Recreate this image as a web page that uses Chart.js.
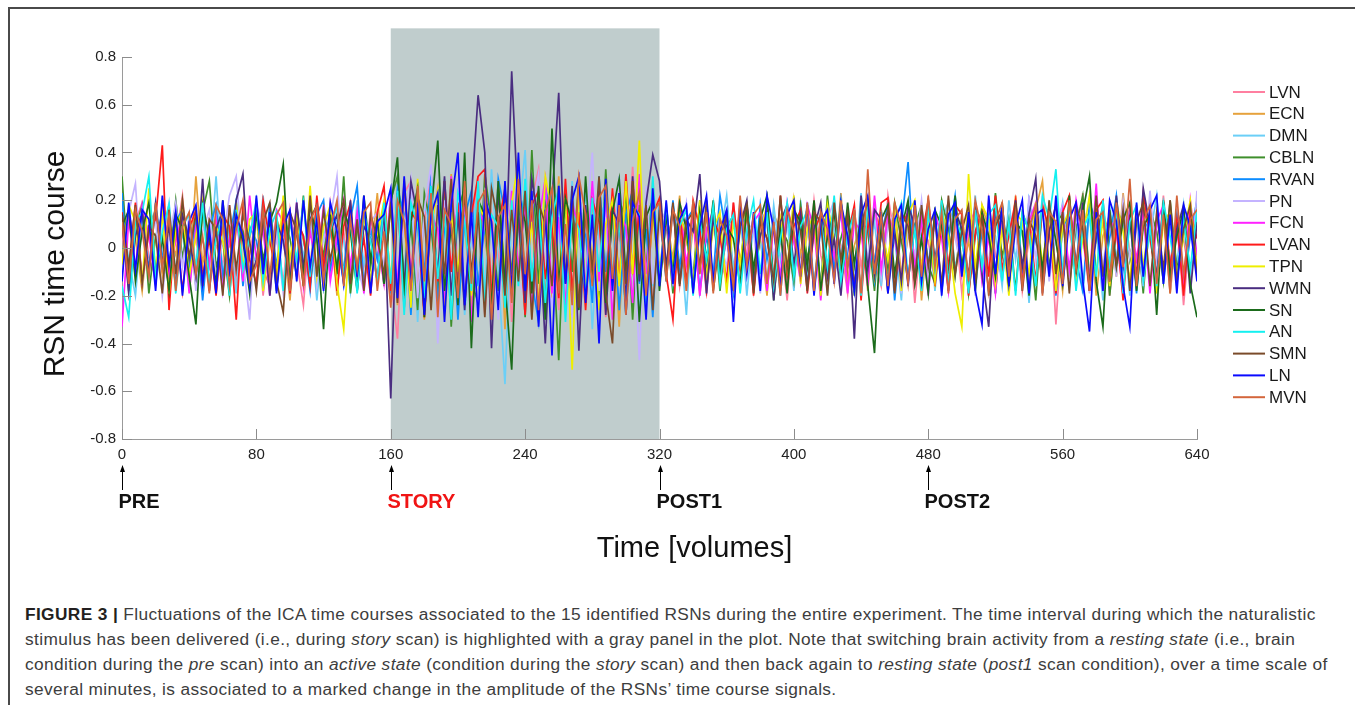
<!DOCTYPE html>
<html>
<head>
<meta charset="utf-8">
<script src="https://cdn.jsdelivr.net/npm/chart.js@4.4.1/dist/chart.umd.min.js"></script>
<style>
  html, body { margin: 0; padding: 0; background: #fff; overflow: hidden; }
  #frame { position: absolute; left: 8px; top: 7px; width: 1360px; height: 720px;
           border-top: 2px solid #4a4a4a; border-left: 2px solid #4a4a4a; }
  #plot { position: absolute; left: 0; top: 0; }
  #caption { position: absolute; left: 25px; top: 602px; white-space: nowrap;
             font: 17.3px "Liberation Sans", Arial, sans-serif; letter-spacing: 0.38px;
             line-height: 25px; color: #3d3d3d; }
  #caption b { color: #231f20; }
</style>
</head>
<body>
<div id="frame"></div>
<canvas id="plot" width="1355" height="580"></canvas>
<div id="caption">
<b>FIGURE 3 |</b> Fluctuations of the ICA time courses associated to the 15 identified RSNs during the entire experiment. The time interval during which the naturalistic<br>
stimulus has been delivered (i.e., during <i>story</i> scan) is highlighted with a gray panel in the plot. Note that switching brain activity from a <i>resting state</i> (i.e., brain<br>
condition during the <i>pre</i> scan) into an <i>active state</i> (condition during the <i>story</i> scan) and then back again to <i>resting state</i> (<i>post1</i> scan condition), over a time scale of<br>
several minutes, is associated to a marked change in the amplitude of the RSNs’ time course signals.
</div>
<script>
// RSN time courses, every 4 volumes (values x100)
const step = 4;
const names = ['LVN', 'ECN', 'DMN', 'CBLN', 'RVAN', 'PN', 'FCN', 'LVAN', 'TPN', 'WMN', 'SN', 'AN', 'SMN', 'LN', 'MVN'];

const lvn = [7,-16,11,19,-4,-12,15,-8,3,22,-11,5,-19,12,1,-7,18,-14,8,-3,
  14,-20,4,9,-15,16,-5,-24,11,3,-9,19,-1,7,-16,12,-8,15,-4,9,
  -13,-38,23,28,-18,11,31,-25,19,-10,26,-21,8,30,-28,14,-6,24,-31,16,-11,
  20,33,-23,5,-26,15,9,-19,25,-14,10,-29,21,6,-16,34,-8,13,-24,11,
  -9,18,-16,5,12,-20,8,15,-4,-14,19,-7,3,-18,11,16,-11,4,-22,14,
  7,-12,20,-3,-15,9,1,-19,16,-8,12,-5,-16,22,4,-11,14,-23,8,3,
  -14,18,-7,11,-19,5,15,-9,20,-3,-12,8,16,-18,4,12,-15,19,-32,11,
  7,-8,23,-14,3,15,-20,9,-5,18,-16,11,4,-12,22,-7,14,-24,8,-4];
const ecn = [-8,14,4,-18,9,16,-12,5,-3,20,-15,30,-7,11,-19,8,1,15,-11,4,
  18,-9,-16,12,5,-22,14,3,-8,19,-4,11,-20,15,8,-12,16,-5,23,-14,
  18,-24,29,-10,20,-30,9,25,-16,31,-20,11,-26,23,4,-15,28,-34,18,-8,24,
  -29,10,15,-21,30,-13,8,-25,19,-5,26,-18,13,-33,21,-9,16,-23,28,-10,
  15,-5,22,-18,9,3,-14,19,-8,12,-16,7,18,-11,4,-20,14,8,-15,20,
  -3,12,-19,16,5,-9,23,-14,1,11,-18,15,8,-7,19,-12,4,16,-22,9,
  14,-16,5,20,-11,3,-15,18,8,-19,12,-4,22,-14,7,16,28,-9,4,-18,
  19,-8,11,15,-20,5,14,-12,23,-3,-15,18,7,-11,16,-19,9,4,-14,20];
const dmn = [16,-5,-20,12,8,-15,3,19,-11,7,-18,14,4,-8,30,-12,9,-19,15,1,
  -7,22,-14,5,11,-16,18,-4,12,-22,8,-11,15,3,-18,20,-7,9,-14,16,
  -23,15,-11,26,-31,18,10,-20,29,-14,21,-28,6,24,-18,33,-10,-57,16,11,41,
  -24,14,-30,20,8,-25,28,-15,23,-34,13,19,-11,30,-21,9,-28,24,-16,14,
  -12,16,7,-28,19,-8,14,-16,4,22,-9,15,-20,11,3,-14,18,-5,12,-18,
  20,-11,5,15,-19,8,-3,16,-12,23,-7,11,-16,14,4,-22,18,-9,7,15,
  -18,12,19,-8,3,-15,22,-12,9,5,-16,20,-5,14,-23,8,16,-11,4,19,
  -14,9,-19,15,7,-22,18,-4,12,-20,16,-9,5,22,-15,11,-7,18,-12,14];
const cbln = [30,-12,8,18,-19,5,14,-9,20,-4,11,-16,15,28,-8,3,-20,12,7,-14,
  19,-5,9,-18,14,4,-12,22,-15,8,-3,16,-11,30,-19,7,15,-8,12,-16,
  20,30,-16,11,-26,23,9,-19,28,-33,16,25,-14,-23,31,10,-18,21,-11,26,-29,
  41,-15,19,8,-47,24,-10,29,-20,14,-25,33,-16,11,21,-30,18,-9,25,-15,
  11,-19,15,4,-12,20,-7,16,-18,8,14,-9,19,-15,5,12,-22,9,3,-14,
  18,-5,11,-16,22,-8,4,15,-20,12,7,-18,16,-11,19,3,-14,9,18,-7,
  -15,20,8,-12,14,-19,5,16,-9,23,-4,12,-18,15,7,-22,19,-8,11,14,
  -16,9,22,-12,4,18,-20,8,15,-5,12,-19,16,7,-14,20,-9,5,15,-11];
const rvan = [23,-18,7,14,-9,19,-3,-15,11,16,-7,12,-22,8,18,-12,4,20,-16,9,
  3,-14,19,-8,15,-19,11,5,-18,14,20,-9,4,-15,12,26,-16,8,-5,18,
  -19,25,14,-28,21,-11,31,-23,8,18,-30,13,24,-16,10,-25,29,15,-20,9,23,
  -14,-31,26,11,-18,20,-28,15,6,-23,30,-10,19,-26,14,24,-15,8,-29,18,
  -14,20,-8,12,16,-18,5,-11,22,4,-19,14,9,-15,18,-5,11,-20,15,3,
  -12,19,-16,8,14,-9,20,-4,-18,15,11,-14,5,18,-22,9,36,-12,16,-7,
  14,-18,4,22,-11,15,-16,7,12,-19,18,-8,9,-15,20,3,-12,16,-20,8,
  15,-5,-18,19,11,-14,4,22,-9,16,-19,12,7,-15,18,-8,14,-16,5,20];
const pn = [-11,15,27,-16,8,12,-20,4,19,-8,14,-18,7,16,-12,3,22,30,-5,-30,
  18,9,-15,5,-19,14,8,-11,20,-16,4,12,30,-14,16,-7,-18,11,15,-9,
  24,-15,10,29,-21,16,35,-40,20,-11,28,-19,13,-26,23,9,-30,18,25,-14,-20,
  15,31,-10,-24,19,11,-29,21,8,40,-18,14,-25,30,-13,16,-47,26,-15,10,
  16,-12,5,19,-15,9,-20,14,3,-8,18,-16,11,7,-19,15,-4,12,-14,22,
  -9,5,16,-18,12,20,-11,4,-15,14,-5,18,-12,9,15,-19,8,-3,20,-14,
  11,-16,19,4,-9,14,-20,16,-7,12,15,-11,7,-18,22,-5,22,-14,9,18,
  -15,12,5,-19,16,-8,14,-12,20,-4,9,-16,24,-7,15,-18,11,8,-14,24];
const fcn = [-33,12,-8,18,5,-15,20,-11,3,14,-19,9,16,-7,12,-18,4,15,-14,22,
  -5,8,-20,16,11,-12,19,-16,7,-9,18,-14,5,20,-8,15,-19,12,3,-15,
  23,-16,26,-11,19,-28,14,8,-23,30,-13,21,-31,16,10,-20,25,-15,24,-9,18,
  -26,11,29,-19,13,-24,20,6,-16,28,-14,21,-30,15,9,-23,31,-11,19,-15,
  12,-16,19,-7,14,-20,8,16,-11,4,-15,20,-5,11,15,-18,9,-12,19,3,
  -14,18,8,-22,12,-4,16,-19,11,7,-16,22,-9,14,5,-15,18,-8,12,-20,
  15,4,-18,20,-11,9,16,-14,5,-19,14,-7,18,-15,11,19,-12,8,-16,15,
  -9,20,4,-14,27,-18,12,7,-20,16,-5,15,-19,11,18,-12,8,-15,20,-3];
const lvan = [15,-9,19,-14,7,12,43,-26,11,-18,8,16,-12,4,-20,14,9,-30,18,-5,
  -15,20,3,-11,16,-19,12,5,-16,22,-8,14,-18,9,19,-12,4,-20,15,26,
  -18,21,-25,15,11,-29,23,-14,28,-10,19,-24,14,30,33,-20,9,25,-16,13,-28,
  18,24,-13,10,-21,29,-18,15,-26,20,11,-19,25,-15,31,-11,16,-23,14,21,
  -11,-30,16,-15,20,8,-18,12,5,-14,19,-8,15,-20,11,4,-16,22,-12,9,
  16,-19,7,14,-11,20,-15,5,18,-22,12,-7,19,21,-18,9,15,-14,4,20,
  -16,11,-8,18,14,-20,7,16,-12,22,-9,5,20,-16,12,-14,18,8,-19,15,
  22,-11,7,-18,16,20,-15,9,-22,14,-12,23,5,-16,19,-8,12,-20,15,4];
const tpn = [-7,18,11,-15,25,-9,14,-19,8,16,-12,5,20,-16,9,3,-14,19,-8,12,
  15,-18,7,-11,22,-5,14,-16,26,-12,9,18,-15,-34,12,-8,16,-14,5,20,
  -14,20,11,-25,29,-16,9,24,-30,15,-10,26,-20,18,13,-28,23,-9,19,36,-15,
  11,-24,30,16,-13,21,-51,25,-19,14,-26,10,20,-16,28,-11,45,-23,15,-13,
  18,-9,14,5,-16,20,-12,8,15,-19,11,-7,16,-14,4,19,-18,12,-9,22,
  -15,8,14,-20,18,3,-11,15,-16,7,19,-12,9,-5,16,-18,14,20,-8,11,
  -14,16,5,-19,-33,31,-9,18,12,-15,8,-20,15,11,-12,19,-7,14,-18,9,
  16,-15,4,22,-11,12,-16,19,7,-14,18,-8,14,-19,11,15,-12,5,20,-9];
const wmn = [12,-19,5,15,-11,18,-7,9,-16,14,4,-12,29,-18,8,16,-9,20,31,-14,
  -5,15,-20,11,3,-15,19,-8,12,18,-16,7,14,-11,20,-18,9,4,-14,16,
  -63,23,-16,28,13,-24,19,-11,30,-20,15,-26,21,64,40,-42,25,-18,74,14,-23,
  29,11,-40,20,65,-15,26,-43,18,-13,24,-28,16,10,-21,30,-14,19,39,28,
  -8,18,-15,12,7,31,-19,14,-11,16,-18,9,20,-14,5,15,-22,11,18,-7,
  14,-16,8,19,-12,4,-20,15,-38,22,-9,16,12,-19,7,-14,18,9,-15,20,
  -5,14,-18,16,8,-12,19,-11,-33,15,11,-16,20,-8,14,29,-19,7,18,-12,
  15,-9,19,-18,5,16,-14,22,-7,12,-16,25,9,-12,19,-15,8,18,-19,11];
const sn = [9,16,-14,7,19,-11,4,-18,14,8,-12,-32,18,5,-15,20,-8,12,3,-19,
  15,-7,11,19,35,-16,8,-12,18,4,-34,14,-9,16,7,-18,22,-5,12,-15,
  18,38,-20,11,25,-29,15,45,-18,9,-24,40,-42,20,14,-25,28,-15,-51,23,11,
  -19,26,-30,50,-16,21,10,-26,30,-14,19,-23,15,29,-11,24,-31,13,20,-18,
  14,-11,19,8,-18,15,-5,20,-14,9,4,-16,18,-9,12,22,-15,7,-19,16,
  11,-8,20,-18,5,15,-12,19,-7,14,-16,-44,12,18,-11,8,20,-15,4,-19,
  16,9,-14,22,-8,12,-18,15,5,-12,19,-16,11,7,-20,14,-9,18,3,-15,
  22,-11,15,30,-14,-33,16,-8,12,19,-18,9,14,-28,20,-12,5,16,-15,-29];
const an = [-16,-29,11,15,30,-12,7,18,-19,9,14,-8,19,-15,4,12,-20,16,-9,5,
  20,-14,8,15,-18,11,-5,19,-12,14,-16,7,18,-11,12,-19,15,3,-14,19,
  -15,24,-28,19,10,-21,26,-13,16,-30,23,11,-18,28,-24,14,9,-25,20,-16,29,
  -14,18,-23,13,25,-31,15,8,-20,21,-10,26,-16,11,-28,18,14,-24,30,-14,
  19,-14,9,16,-20,12,-5,18,-15,8,14,-19,7,20,-11,15,-16,4,19,-12,
  9,16,-18,12,-8,22,-14,5,15,-20,18,-7,14,-16,11,19,-12,8,-18,15,
  -9,20,-15,12,5,-19,16,-8,14,18,-14,11,-20,15,7,-16,22,12,33,-11,
  16,-18,8,14,-12,20,-7,15,-19,11,18,-14,9,-16,19,5,-15,12,-9,16];
const smn = [14,-8,18,-15,9,5,-19,16,-11,20,-4,15,-16,12,8,-20,18,-9,14,3,
  -18,11,19,-14,-27,15,7,-16,22,-12,16,-5,9,20,-15,12,-18,14,4,-11,
  19,-23,28,-15,21,13,-26,18,-11,29,-18,23,-10,15,-29,25,11,-20,16,-14,24,
  -30,19,10,-16,26,-13,21,-25,15,-9,30,-19,-40,23,-15,28,-11,18,-26,16,
  -12,19,-16,11,15,-8,20,-18,5,14,-15,9,18,-19,12,4,-14,22,-9,16,
  7,-18,15,11,-20,19,-5,14,-16,8,20,-12,5,16,-19,15,9,-14,18,-8,
  12,-16,22,-11,7,18,-15,14,-20,9,16,-8,19,-18,12,5,-14,20,-11,15,
  -19,18,8,-15,22,-12,14,-7,16,-18,11,19,-16,15,-9,20,-14,8,18,-12];
const ln = [-14,19,-9,16,12,-18,22,-7,15,-20,11,18,-15,8,-19,20,-12,14,5,-16,
  22,-11,15,-19,9,16,-14,20,-8,12,-18,19,7,-15,16,-12,22,-19,11,14,
  25,-21,30,-16,19,-28,14,23,-31,18,40,-24,15,-29,21,11,-26,28,-19,40,-18,
  24,-33,16,-45,26,-15,20,30,-23,14,-40,29,-18,23,-28,19,13,-30,25,-16,
  20,-15,12,18,-19,9,22,-14,7,16,-31,19,-11,15,-18,22,8,-16,14,20,
  -12,18,-20,11,16,-15,19,5,-18,14,22,-9,15,-19,12,18,-16,20,-14,8,
  16,-20,14,19,-12,15,-18,-32,22,-11,18,-15,9,20,-19,14,16,-12,22,-16,
  12,19,-14,-35,15,-18,20,11,-16,-33,19,-12,16,22,-15,14,-19,18,9,-14];
const mvn = [11,-15,16,7,-12,19,-8,14,-18,9,15,-11,5,-19,18,12,-16,8,20,-14,
  -7,16,-12,14,19,-18,9,-15,11,18,-14,8,20,-16,12,-9,15,19,-18,7,
  -25,20,11,-18,26,-14,23,-29,16,10,-21,28,-15,19,24,-30,13,18,-23,29,-11,
  20,-26,15,25,-19,10,-24,30,14,-16,21,26,-13,18,-28,11,23,-20,15,19,
  -14,16,9,-18,20,-11,15,-19,12,5,-16,22,-8,14,18,-15,11,-20,16,7,
  -12,19,-18,15,8,-14,20,-9,16,-19,33,-11,14,-16,19,9,-15,18,-12,22,
  -8,15,-19,12,16,-14,20,7,-18,11,19,-12,14,-16,8,18,-20,15,11,-15,
  20,-9,16,-18,12,15,-14,19,-8,29,-16,11,18,-15,14,-19,22,-11,12,16];

const series = [lvn, ecn, dmn, cbln, rvan, pn, fcn, lvan, tpn, wmn, sn, an, smn, ln, mvn];
const colors = ['#ff7fa0', '#e6a23c', '#6bcff7', '#3f8f2c', '#0c8cff', '#c4b3ff', '#ff22ff', '#ff1a1a',
                '#eeee00', '#4a2d80', '#1b6b1b', '#14f0f0', '#7a4b2a', '#0a0aff', '#d4663c'];

const xTicks = [0, 80, 160, 240, 320, 400, 480, 560, 640];
const yTicks = [-0.8, -0.6, -0.4, -0.2, 0, 0.2, 0.4, 0.6, 0.8];
const phaseNames = ['PRE', 'STORY', 'POST1', 'POST2'];
const phaseStarts = [0, 160, 320, 480];
const phaseColors = ['#111', '#f01414', '#111', '#111'];
const panelTop = 0.92;

const FONT = '"Liberation Sans", Arial, Helvetica, sans-serif';

const decor = {
  id: 'decor',
  beforeDatasetsDraw(chart) {
    const {ctx, chartArea, scales: {x, y}} = chart;
    const x0 = x.getPixelForValue(phaseStarts[1]);
    const x1 = x.getPixelForValue(phaseStarts[2]);
    const top = y.getPixelForValue(panelTop);
    ctx.save();
    ctx.fillStyle = '#c0cdcd';
    ctx.fillRect(x0, top, x1 - x0, chartArea.bottom - top);
    ctx.restore();
  },
  afterDraw(chart) {
    const {ctx, chartArea, scales: {x, y}} = chart;
    ctx.save();
    // inward tick marks
    ctx.strokeStyle = '#8c8c8c';
    ctx.lineWidth = 1;
    ctx.beginPath();
    x.ticks.forEach(t => {
      const px = Math.round(x.getPixelForValue(t.value)) + 0.5;
      ctx.moveTo(px, chartArea.bottom);
      ctx.lineTo(px, chartArea.bottom - 10);
    });
    y.ticks.forEach(t => {
      const py = Math.round(y.getPixelForValue(t.value)) + 0.5;
      ctx.moveTo(chartArea.left, py);
      ctx.lineTo(chartArea.left + 10, py);
    });
    ctx.stroke();

    // scan phase arrows and labels
    const b = chartArea.bottom;
    phaseNames.forEach((name, i) => {
      const px = Math.round(x.getPixelForValue(phaseStarts[i])) + 0.5;
      ctx.strokeStyle = '#000';
      ctx.fillStyle = '#000';
      ctx.lineWidth = 1;
      ctx.beginPath();
      ctx.moveTo(px, b + 51);
      ctx.lineTo(px, b + 31);
      ctx.stroke();
      ctx.beginPath();
      ctx.moveTo(px, b + 26);
      ctx.lineTo(px - 2.5, b + 33);
      ctx.lineTo(px + 2.5, b + 33);
      ctx.closePath();
      ctx.fill();
      ctx.fillStyle = phaseColors[i];
      ctx.font = 'bold 20px ' + FONT;
      ctx.textAlign = 'left';
      ctx.textBaseline = 'middle';
      ctx.fillText(name, px - 4, b + 63);
    });

    // axis titles
    ctx.fillStyle = '#111';
    ctx.font = '29px ' + FONT;
    ctx.textAlign = 'center';
    ctx.textBaseline = 'middle';
    ctx.fillText('Time [volumes]', (chartArea.left + chartArea.right) / 2 + 35, b + 110);
    ctx.save();
    ctx.translate(56, (chartArea.top + chartArea.bottom) / 2 + 16);
    ctx.rotate(-Math.PI / 2);
    ctx.font = '30px ' + FONT;
    ctx.fillText('RSN time course', 0, 0);
    ctx.restore();

    // legend
    const lx = chartArea.right + 36;
    const ly = chartArea.top + 35;
    ctx.font = '17px ' + FONT;
    ctx.textAlign = 'left';
    names.forEach((name, i) => {
      const yy = ly + i * 21.8;
      ctx.strokeStyle = colors[i];
      ctx.lineWidth = 2;
      ctx.beginPath();
      ctx.moveTo(lx, yy);
      ctx.lineTo(lx + 32, yy);
      ctx.stroke();
      ctx.fillStyle = '#1a1a1a';
      ctx.fillText(name, lx + 36, yy + 1);
    });
    ctx.restore();
  }
};

new Chart(document.getElementById('plot'), {
  type: 'line',
  data: {
    datasets: names.map((name, i) => ({
      label: name,
      data: series[i].map((v, k) => ({x: k * step, y: v / 100})),
      borderColor: colors[i],
      backgroundColor: colors[i],
      borderWidth: 1.7,
      pointRadius: 0,
      tension: 0,
      order: names.length - 1 - i
    }))
  },
  options: {
    responsive: false,
    animation: false,
    layout: {padding: {left: 0, top: 57, right: 158, bottom: 0}},
    plugins: {legend: {display: false}, tooltip: {enabled: false}},
    scales: {
      x: {
        type: 'linear',
        min: 0,
        max: 640,
        afterFit(scale) { scale.height = 141; },
        afterBuildTicks(scale) { scale.ticks = xTicks.map(v => ({value: v})); },
        grid: {display: false, drawTicks: false},
        border: {display: true, color: '#9a9a9a', width: 1},
        ticks: {padding: 7, color: '#222', font: {family: FONT, size: 15}}
      },
      y: {
        min: -0.8,
        max: 0.8,
        afterFit(scale) { scale.width = 122; },
        afterBuildTicks(scale) { scale.ticks = yTicks.map(v => ({value: v})); },
        grid: {display: false, drawTicks: false},
        border: {display: true, color: '#9a9a9a', width: 1},
        ticks: {padding: 6, color: '#222', font: {family: FONT, size: 15},
                callback: v => String(+v.toFixed(1))}
      }
    }
  },
  plugins: [decor]
});
</script>
</body>
</html>
